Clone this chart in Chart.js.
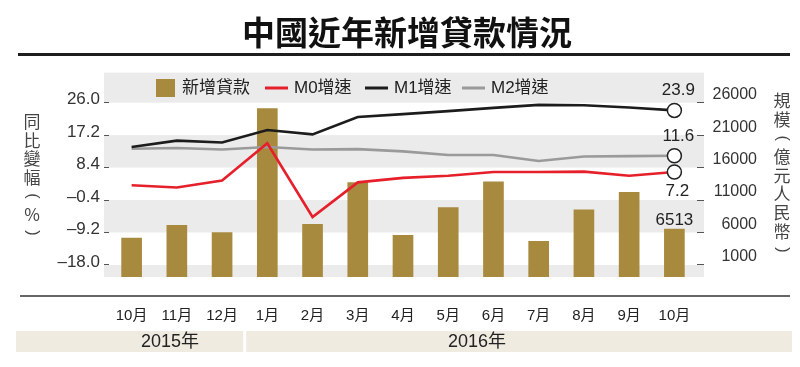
<!DOCTYPE html>
<html>
<head>
<meta charset="utf-8">
<script src="https://cdn.jsdelivr.net/npm/chart.js@4.4.0/dist/chart.umd.min.js"></script>
<style>
  html, body { margin: 0; padding: 0; background: #fff; }
  #wrap { width: 800px; height: 367px; }
</style>
</head>
<body>
<div id="wrap"><canvas id="loanChart"></canvas></div>
<script>
// data
const months = ['10月', '11月', '12月', '1月', '2月', '3月', '4月', '5月', '6月', '7月', '8月', '9月', '10月'];
const newLoans = [5136, 7089, 5978, 25100, 7266, 13700, 5556, 9855, 13800, 4636, 9487, 12200, 6513];
const m0Growth = [3.6, 3.0, 4.9, 15.0, -5.0, 4.4, 5.6, 6.2, 7.2, 7.2, 7.3, 6.2, 7.2];
const m1Growth = [14.0, 15.7, 15.2, 18.6, 17.4, 22.1, 22.9, 23.7, 24.6, 25.4, 25.3, 24.7, 23.9];
const m2Growth = [13.5, 13.7, 13.3, 14.0, 13.3, 13.4, 12.8, 11.8, 11.8, 10.2, 11.4, 11.5, 11.6];
const rateTicks = [-18.0, -9.2, -0.4, 8.4, 17.2, 26.0];
const loanTicks = [1000, 6000, 11000, 16000, 21000, 26000];
const yearLabels = ['2015年', '2016年'];

const latinFont = "'Liberation Sans', 'Noto Sans CJK TC', sans-serif";
const cjkFont = "'Noto Sans CJK TC', 'Liberation Sans', sans-serif";

const barColor = '#a88a3e';
const m0Color = '#e6202b';
const m1Color = '#1c1c1c';
const m2Color = '#9a9a9a';
const bandColor = '#ebebeb';

const rateMin = -21.26, rateMax = 34.15;
const loanMin = -852, loanMax = 30630;

const lastOnly = (r) => months.map((m, i) => i === months.length - 1 ? r : 0);

const lineSet = (label, data, color, order) => ({
    type: 'line',
    label: label,
    data: data,
    yAxisID: 'yRate',
    borderColor: color,
    borderWidth: 2.6,
    tension: 0,
    fill: false,
    order: order,
    pointRadius: lastOnly(7),
    pointBackgroundColor: '#fff',
    pointBorderColor: '#222',
    pointBorderWidth: 1.5
});

// stacked vertical title, brackets turned on their side
const verticalText = (ctx, chars, x, y0, step) => {
    chars.forEach((c, i) => {
        const y = y0 + i * step;
        if (c === '(' || c === ')') {
            ctx.save();
            ctx.translate(x, y);
            ctx.rotate(Math.PI / 2);
            ctx.font = '16px ' + latinFont;
            ctx.fillText(c, 0, 0);
            ctx.restore();
        } else {
            ctx.fillText(c, x, y);
        }
    });
};

// grey bands + frame lines + year strip
const backdrop = {
    id: 'backdrop',
    beforeDraw(chart) {
        const ctx = chart.ctx;
        const area = chart.chartArea;
        const y = chart.scales.yRate;
        const x = chart.scales.x;
        const left = area.left - 5, right = area.right + 7;
        const p = rateTicks.map(v => y.getPixelForValue(v));
        const bands = [[area.top, p[5]], [p[4], p[3]], [p[2], p[1]], [p[0], area.bottom]];
        ctx.save();
        ctx.fillStyle = bandColor;
        bands.forEach(b => ctx.fillRect(left, b[0], right - left, b[1] - b[0]));

        // rule under title
        ctx.fillStyle = '#1e1e1e';
        ctx.fillRect(18, 53, 772, 3);
        // rule under plot
        ctx.fillStyle = '#666';
        ctx.fillRect(20, 295, 770, 2);

        // year strip
        const split = (x.getPixelForTick(2) + x.getPixelForTick(3)) / 2;
        ctx.fillStyle = '#efebe0';
        ctx.fillRect(16, 331, split - 1.5 - 16, 21);
        ctx.fillRect(split + 1.5, 331, 792 - split - 1.5, 21);
        ctx.fillStyle = '#222';
        ctx.font = '18px ' + latinFont;
        ctx.textAlign = 'center';
        ctx.textBaseline = 'middle';
        ctx.fillText(yearLabels[0], 170, 342);
        ctx.fillText(yearLabels[1], 477, 342);
        ctx.restore();
    }
};

// legend, axis titles, end labels
const extras = {
    id: 'extras',
    afterDraw(chart) {
        const ctx = chart.ctx;
        ctx.save();
        ctx.textBaseline = 'middle';
        ctx.textAlign = 'left';
        ctx.font = '17px ' + latinFont;
        ctx.fillStyle = '#222';

        // legend
        const ly = 88;
        ctx.fillStyle = barColor;
        ctx.fillRect(156, 79, 19, 18);
        ctx.fillStyle = '#222';
        ctx.fillText('新增貸款', 182, ly);
        [[m0Color, 265, 'M0增速'], [m1Color, 365, 'M1增速'], [m2Color, 462, 'M2增速']].forEach(it => {
            ctx.fillStyle = it[0];
            ctx.fillRect(it[1], ly - 1.5, 23, 3);
            ctx.fillStyle = '#222';
            ctx.fillText(it[2], it[1] + 29, ly);
        });

        // vertical axis titles
        ctx.textAlign = 'center';
        ctx.fillStyle = '#444';
        ctx.font = '17px ' + cjkFont;
        verticalText(ctx, ['同', '比', '變', '幅', '(', '%', ')'], 32, 122, 18.5);
        ctx.font = '17px ' + cjkFont;
        verticalText(ctx, ['規', '模', '(', '億', '元', '人', '民', '幣', ')'], 782, 101, 18.6);

        // value labels at the last month
        const last = months.length - 1;
        ctx.fillStyle = '#222';
        ctx.font = '17px ' + latinFont;
        const pt = (i) => chart.getDatasetMeta(i).data[last];
        const m1 = pt(3), m2 = pt(2), m0 = pt(1), bar = pt(0);
        ctx.fillText(m1Growth[last].toFixed(1), m1.x + 4, m1.y - 20);
        ctx.fillText(m2Growth[last].toFixed(1), m2.x + 4, m2.y - 19);
        ctx.fillText(m0Growth[last].toFixed(1), m0.x + 3, m0.y + 19);
        ctx.fillText(String(newLoans[last]), bar.x, bar.y - 9);
        ctx.restore();
    }
};

const data = {
    labels: months,
    datasets: [
        {
            type: 'bar',
            label: '新增貸款',
            data: newLoans,
            yAxisID: 'yLoan',
            backgroundColor: barColor,
            barThickness: 20,
            base: loanMin,
            order: 4
        },
        lineSet('M0增速', m0Growth, m0Color, 2),
        lineSet('M2增速', m2Growth, m2Color, 3),
        lineSet('M1增速', m1Growth, m1Color, 1)
    ]
};

const config = {
    data: data,
    options: {
        responsive: true,
        maintainAspectRatio: false,
        animation: false,
        events: [],
        layout: { padding: { left: 57, right: 43, top: 0, bottom: 40 } },
        plugins: {
            legend: { display: false },
            tooltip: { enabled: false },
            title: {
                display: true,
                text: '中國近年新增貸款情況',
                color: '#111',
                font: { family: cjkFont, size: 33, weight: 'bold', lineHeight: 1.2 },
                padding: { top: 13, bottom: 20 }
            }
        },
        scales: {
            x: {
                grid: { display: false, drawTicks: false },
                border: { display: false },
                ticks: { color: '#222', font: { family: latinFont, size: 15 }, padding: 30, maxRotation: 0, autoSkip: false },
                afterFit: (s) => { s.height = 50; }
            },
            yRate: {
                position: 'left',
                min: rateMin,
                max: rateMax,
                afterBuildTicks: (s) => { s.ticks = rateTicks.map(v => ({ value: v })); },
                ticks: {
                    color: '#333',
                    font: { family: latinFont, size: 17 },
                    padding: 4,
                    labelOffset: -3,
                    callback: (v) => v.toFixed(1).replace('-', '–')
                },
                grid: { drawOnChartArea: false, tickLength: 5, color: '#555' },
                border: { display: false },
                afterFit: (s) => { s.width = 52; }
            },
            yLoan: {
                position: 'right',
                min: loanMin,
                max: loanMax,
                afterBuildTicks: (s) => { s.ticks = loanTicks.map(v => ({ value: v })); },
                ticks: {
                    color: '#333',
                    font: { family: latinFont, size: 16 },
                    padding: 8,
                    crossAlign: 'far',
                    labelOffset: -8,
                    callback: (v) => String(v)
                },
                grid: { drawOnChartArea: false, tickLength: 7, color: '#555' },
                border: { display: false },
                afterFit: (s) => { s.width = 60; }
            }
        }
    },
    plugins: [backdrop, extras]
};

let ctx = document.getElementById('loanChart').getContext('2d');
new Chart(ctx, config);
</script>
</body>
</html>
